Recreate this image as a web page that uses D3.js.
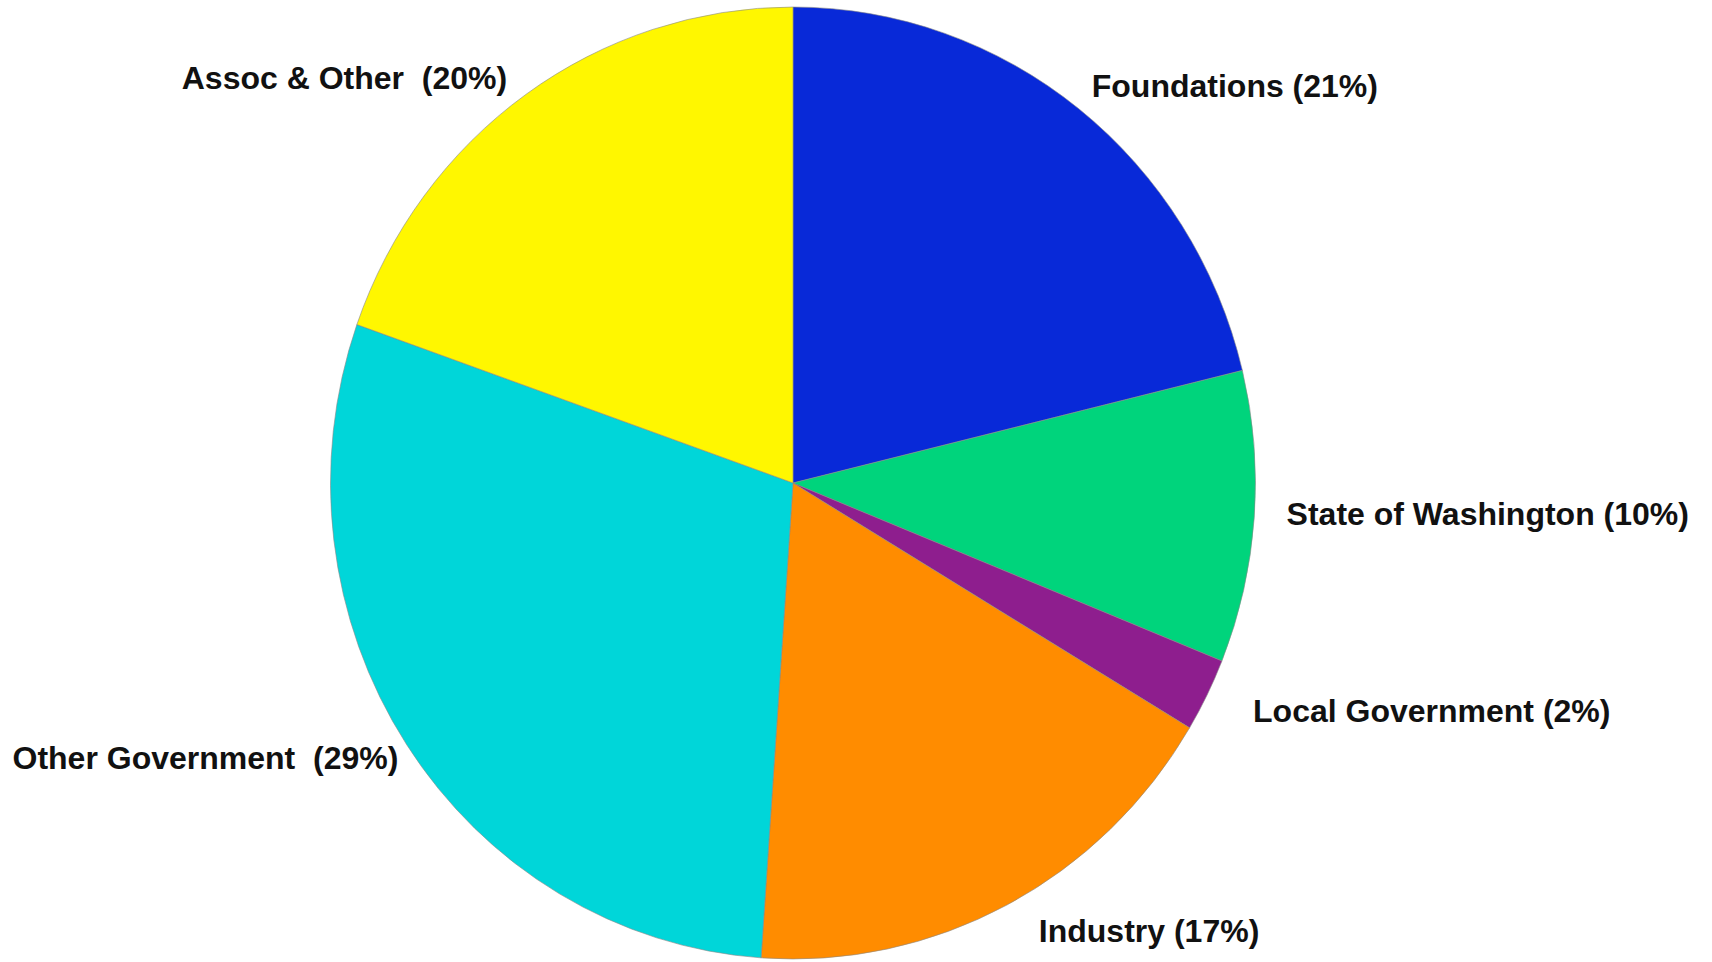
<!DOCTYPE html>
<html>
<head>
<meta charset="utf-8">
<script src="https://cdn.jsdelivr.net/npm/d3@7"></script>
<style>
  html, body { margin: 0; padding: 0; background: #fff; }
  svg { display: block; }
  .slice-label { font-family: "Liberation Sans", Arial, sans-serif; font-weight: bold; font-size: 32px; fill: #111; white-space: pre; }
</style>
</head>
<body>
<svg id="chart"></svg>
<script>
// data, clockwise from 12 o'clock
const categories = ['Foundations', 'State of Washington', 'Local Government', 'Industry', 'Other Government', 'Assoc & Other'];
const shares = [21.2, 9.9, 2.5, 17.5, 29.3, 19.6];
const labels = ['Foundations (21%)', 'State of Washington (10%)', 'Local Government (2%)', 'Industry (17%)', 'Other Government  (29%)', 'Assoc & Other  (20%)'];
const colors = ['#0829d8', '#00d47c', '#8e1e8e', '#ff8c00', '#00d6d9', '#fff700'];

window.addEventListener('load', () => {
    let width = 1712;
    let height = 962;
    let cx = 793, cy = 483;
    let ry = 476, rx = 462.5;   // the pie is slightly squashed sideways
    let labelR = 1.07;
    // small hand nudges so the labels sit where the original put them
    let nudge = [[-7, 3], [0, -6], [17, 1], [17, -4], [19, -5], [0, 11]];

    let svg = d3.select('#chart')
                .attr('width', width)
                .attr('height', height);

    let pie = d3.pie().sort(null).value(d => d.value);
    let arcs = pie(categories.map((c, i) => ({ name: c, value: shares[i], label: labels[i], color: colors[i] })));

    let arc = d3.arc().innerRadius(0).outerRadius(ry);

    let g = svg.append('g')
               .attr('transform', `translate(${cx},${cy}) scale(${rx / ry},1)`);

    g.selectAll('path')
     .data(arcs)
     .enter().append('path')
     .attr('d', arc)
     .attr('fill', d => d.data.color)
     .attr('stroke', '#888')
     .attr('stroke-width', 0.6)
     .attr('vector-effect', 'non-scaling-stroke');

    let mid = d => (d.startAngle + d.endAngle) / 2;

    // labels sit just outside the rim, at each slice's middle angle
    svg.append('g')
       .selectAll('text')
       .data(arcs)
       .enter().append('text')
       .attr('class', 'slice-label')
       .attr('x', (d, i) => cx + rx * labelR * Math.sin(mid(d)) + nudge[i][0])
       .attr('y', (d, i) => cy - ry * labelR * Math.cos(mid(d)) + nudge[i][1])
       .attr('dy', '0.35em')
       .attr('text-anchor', d => mid(d) < Math.PI ? 'start' : 'end')
       .text(d => d.data.label);
});
</script>
</body>
</html>
